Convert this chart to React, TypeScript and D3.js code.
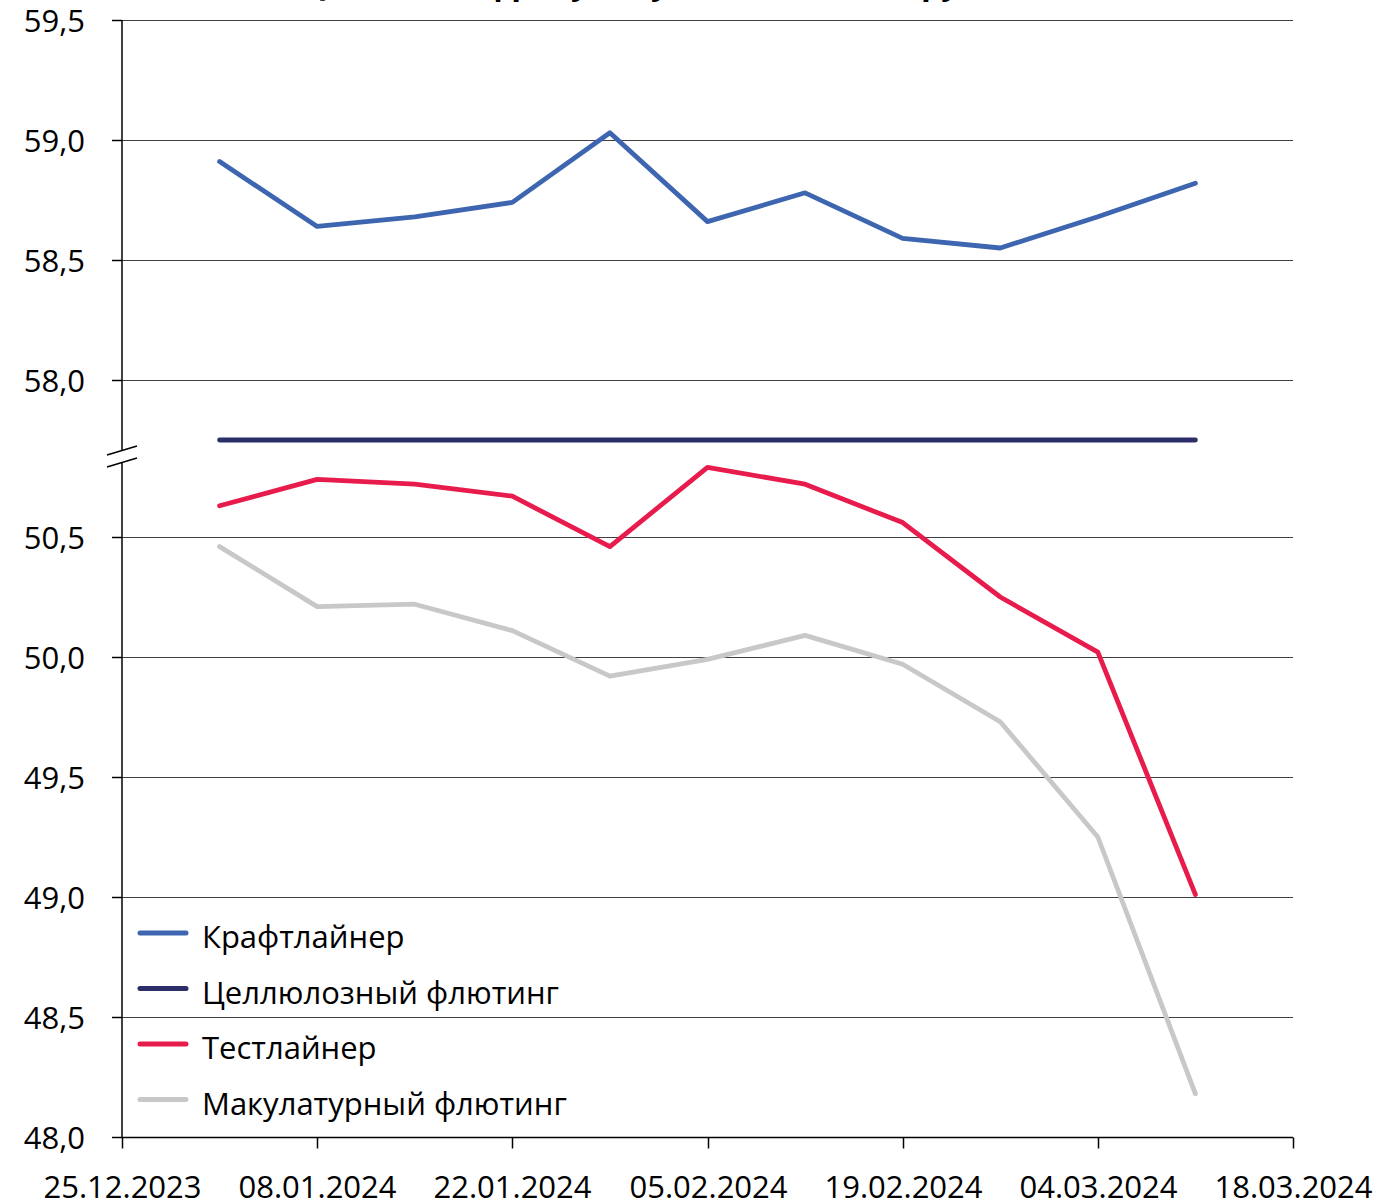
import React from "react";
import * as d3 from "d3";

const dates = ["01.01.2024","08.01.2024","15.01.2024","22.01.2024","29.01.2024","05.02.2024","12.02.2024","19.02.2024","26.02.2024","04.03.2024","11.03.2024"];
const kraftliner = [58.91, 58.64, 58.68, 58.74, 59.03, 58.66, 58.78, 58.59, 58.55, 58.68, 58.82];
const celluloseFluting = [57.75, 57.75, 57.75, 57.75, 57.75, 57.75, 57.75, 57.75, 57.75, 57.75, 57.75];
const testliner = [50.63, 50.74, 50.72, 50.67, 50.46, 50.79, 50.72, 50.56, 50.25, 50.02, 49.01];
const wasteFluting = [50.46, 50.21, 50.22, 50.11, 49.92, 49.99, 50.09, 49.97, 49.73, 49.25, 48.18];
const xTickLabels = ["25.12.2023","08.01.2024","22.01.2024","05.02.2024","19.02.2024","04.03.2024","18.03.2024"];
const yTopTicks = [58.0, 58.5, 59.0, 59.5];
const yBottomTicks = [48.0, 48.5, 49.0, 49.5, 50.0, 50.5];
const seriesNames = ["Крафтлайнер", "Целлюлозный флютинг", "Тестлайнер", "Макулатурный флютинг"];
const title = "Цены на гофробумагу в России, тыс. руб./т";

const parse = d3.timeParse("%d.%m.%Y");
const fmt = (v: number) => v.toFixed(1).replace(".", ",");

export default function App() {
  const W = 1384, H = 1203;
  const left = 122, right = 1293;
  const x = d3.scaleTime()
    .domain([parse("25.12.2023")!, parse("18.03.2024")!])
    .range([left, right]);
  const yTop = d3.scaleLinear().domain([58, 59.5]).range([380, 20]);
  const yBot = d3.scaleLinear().domain([48, 50.5]).range([1137, 537]);
  const font = "'Open Sans', sans-serif";
  const fs = 31;

  const series = [
    { name: seriesNames[0], values: kraftliner, scale: yTop, color: "#3e66b0" },
    { name: seriesNames[1], values: celluloseFluting, scale: yTop, color: "#2b2e67" },
    { name: seriesNames[2], values: testliner, scale: yBot, color: "#e81c4c" },
    { name: seriesNames[3], values: wasteFluting, scale: yBot, color: "#c8c8c8" },
  ];

  const gridColor = "#404040";
  const xAxisY = 1137.5;

  return (
    <svg width={W} height={H} style={{ position: "absolute", left: 0, top: 0, display: "block", background: "#fff" }}>
      <text x={660} y={-6} textAnchor="middle" fontFamily={font} fontWeight="bold" fontSize={32}>{title}</text>
      {/* gridlines */}
      {yTopTicks.map((t) => (
        <g key={"t" + t}>
          <line x1={left} x2={right} y1={Math.round(yTop(t)) + 0.5} y2={Math.round(yTop(t)) + 0.5} stroke={gridColor} strokeWidth={1} />
          <line x1={112} x2={left} y1={Math.round(yTop(t)) + 0.5} y2={Math.round(yTop(t)) + 0.5} stroke="#000" strokeWidth={1.5} />
          <text x={85} y={yTop(t)} dy="0.38em" textAnchor="end" fontFamily={font} fontSize={fs}>{fmt(t)}</text>
        </g>
      ))}
      {yBottomTicks.map((t) => (
        <g key={"b" + t}>
          {t > 48 && <line x1={left} x2={right} y1={Math.round(yBot(t)) + 0.5} y2={Math.round(yBot(t)) + 0.5} stroke={gridColor} strokeWidth={1} />}
          <line x1={112} x2={left} y1={Math.round(yBot(t)) + 0.5} y2={Math.round(yBot(t)) + 0.5} stroke="#000" strokeWidth={1.5} />
          <text x={85} y={yBot(t)} dy="0.38em" textAnchor="end" fontFamily={font} fontSize={fs}>{fmt(t)}</text>
        </g>
      ))}
      {/* y axis with break */}
      <line x1={left} x2={left} y1={20} y2={450} stroke="#000" strokeWidth={1.5} />
      <line x1={left} x2={left} y1={462} y2={xAxisY} stroke="#000" strokeWidth={1.5} />
      <line x1={107} y1={455} x2={137} y2={446} stroke="#000" strokeWidth={1.5} />
      <line x1={107} y1={467} x2={137} y2={458} stroke="#000" strokeWidth={1.5} />
      {/* x axis */}
      <line x1={left} x2={right} y1={xAxisY} y2={xAxisY} stroke="#000" strokeWidth={1.5} />
      {xTickLabels.map((d) => {
        const xx = Math.round(x(parse(d)!)) + 0.5;
        return (
          <g key={d}>
            <line x1={xx} x2={xx} y1={xAxisY} y2={xAxisY + 11} stroke="#000" strokeWidth={1.5} />
            <text x={xx} y={1198} textAnchor="middle" fontFamily={font} fontSize={fs}>{d}</text>
          </g>
        );
      })}
      {/* series */}
      {series.map((s) => {
        const line = d3.line<number>()
          .x((_, i) => x(parse(dates[i])!))
          .y((v) => s.scale(v));
        return (
          <path key={s.name} d={line(s.values) || ""} fill="none" stroke={s.color} strokeWidth={4.8} strokeLinejoin="round" strokeLinecap="round" />
        );
      })}
      {/* legend */}
      {series.map((s, i) => {
        const cy = 933 + i * 55.5;
        return (
          <g key={"lg" + s.name}>
            <line x1={140} x2={186} y1={cy} y2={cy} stroke={s.color} strokeWidth={5} strokeLinecap="round" />
            <text x={202} y={cy + 4} dy="0.36em" fontFamily={font} fontSize={fs}>{s.name}</text>
          </g>
        );
      })}
    </svg>
  );
}
